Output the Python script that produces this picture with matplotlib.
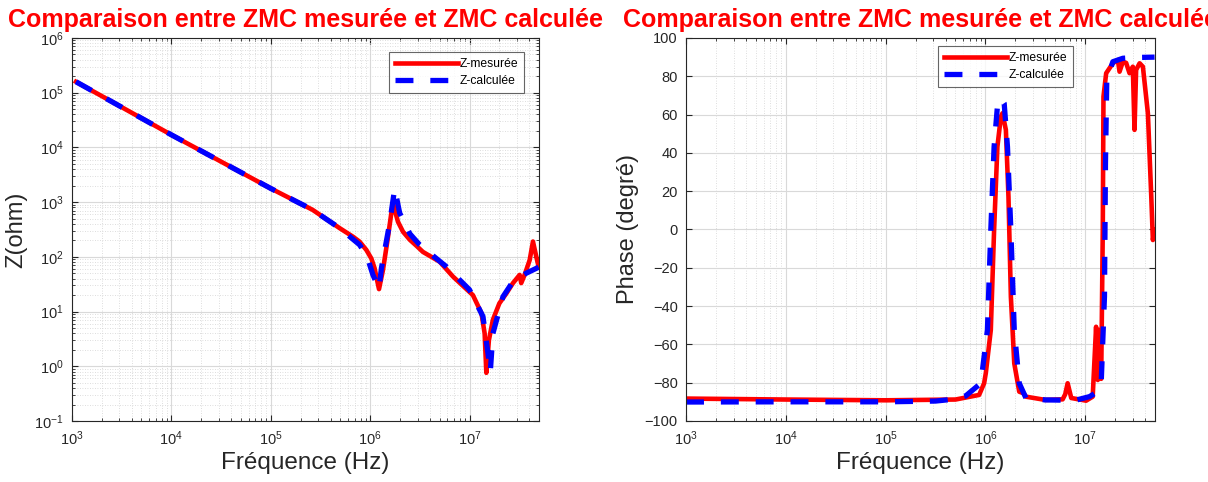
import numpy as np
import matplotlib
matplotlib.use("Agg")
import matplotlib.pyplot as plt
from matplotlib.ticker import LogLocator, NullFormatter, MultipleLocator

# ---- data (log10 of frequency in Hz) ----
# impedance, measured
zm_lf = [3.04, 4.0, 5.0, 5.42, 5.695, 5.827, 5.894, 5.962, 6.012, 6.045, 6.062, 6.089,
         6.129, 6.18, 6.213, 6.23, 6.247, 6.28, 6.33, 6.40, 6.467, 6.531, 6.70, 6.833,
         7.034, 7.12, 7.152, 7.169, 7.195, 7.235, 7.30, 7.37, 7.437, 7.504, 7.52,
         7.554, 7.605, 7.638, 7.672, 7.695]
zm_lz = [5.20, 4.23, 3.25, 2.86, 2.522, 2.368, 2.277, 2.125, 1.97, 1.79, 1.64, 1.41,
         1.76, 2.37, 2.80, 2.98, 2.86, 2.64, 2.46, 2.31, 2.20, 2.09, 1.91, 1.64,
         1.30, 0.97, 0.60, -0.12, 0.48, 0.85, 1.15, 1.33, 1.52, 1.67, 1.52,
         1.67, 1.94, 2.28, 2.0, 1.82]
# impedance, calculated
zc_lf = [3.04, 4.0, 5.0, 5.42, 5.695, 5.894, 5.97, 6.028, 6.089, 6.113, 6.196, 6.247,
         6.297, 6.40, 6.498, 6.767, 6.999, 7.135, 7.185, 7.209, 7.235, 7.336, 7.437,
         7.57, 7.672, 7.695]
zc_lz = [5.20, 4.23, 3.25, 2.86, 2.522, 2.22, 2.0, 1.67, 1.42, 1.79, 2.61, 3.25,
         2.80, 2.42, 2.22, 1.82, 1.40, 0.91, 0.24, -0.10, 0.60, 1.27, 1.55,
         1.70, 1.79, 1.81]

# phase, measured
pm_lf = [3.0, 4.0, 5.0, 5.7, 5.937, 5.987, 6.004, 6.054, 6.087, 6.12, 6.155, 6.171,
         6.205, 6.231, 6.255, 6.289, 6.339, 6.38, 6.406, 6.6, 6.774, 6.8, 6.824,
         6.86, 7.009, 7.075, 7.109, 7.126, 7.143, 7.16, 7.176, 7.183, 7.21, 7.277,
         7.327, 7.344, 7.377, 7.41, 7.444, 7.477, 7.494, 7.51, 7.545, 7.578, 7.628,
         7.662, 7.678, 7.695]
pm_deg = [-88.3, -88.8, -89.2, -88.8, -86.4, -80.3, -75, -52.5, -0.3, 43.2, 58.9, 60.7,
          52, 17.1, -35.1, -69.9, -84.7, -85.5, -87.3, -89, -88.7, -86, -80.3,
          -88, -89.4, -87.3, -50.8, -78.6, -52.5, -78, -0.3, 69.4, 81.6, 86.8,
          88.5, 82.4, 87.6, 87, 81.6, 85, 52, 83.3, 86.8, 85, 60.7,
          17.1, -5.5, -0.3]
# phase, calculated
pc_lf = [3.0, 4.0, 5.0, 5.5, 5.668, 5.80, 5.954, 6.02, 6.054, 6.087, 6.12, 6.155,
         6.188, 6.221, 6.255, 6.289, 6.339, 6.406, 6.6, 6.9, 7.042, 7.1, 7.16,
         7.193, 7.203, 7.216, 7.277, 7.377, 7.5, 7.695]
pc_deg = [-90.1, -90, -90, -89.6, -88.7, -87, -80.3, -52.5, -0.3, 43.2, 64.1, 68.5,
          65.9, 43.2, -0.3, -52.5, -80.3, -88, -89, -89.2, -87.3, -85.5, -80.3,
          -35, 34.6, 78, 87.6, 89.4, 89.8, 90]

f_zm = 10 ** np.array(zm_lf)
f_zc = 10 ** np.array(zc_lf)
f_pm = 10 ** np.array(pm_lf)
f_pc = 10 ** np.array(pc_lf)

titre = "Comparaison entre ZMC mesurée et ZMC calculée"
txt = "#262626"
tirets = (0, (3.4, 3.2))

plt.rcParams["font.family"] = ["Liberation Sans", "DejaVu Sans"]
fig = plt.figure(figsize=(12.08, 4.82), dpi=100)
ax1 = fig.add_axes([0.0596, 0.1266, 0.3866, 0.7946])
ax2 = fig.add_axes([0.5679, 0.1266, 0.3882, 0.7946])


def style(ax):
    ax.set_xscale("log")
    ax.set_xlim(1e3, 5e7)
    ax.xaxis.set_major_locator(LogLocator(base=10, numticks=20))
    ax.xaxis.set_minor_locator(LogLocator(base=10, subs=np.arange(2, 10), numticks=20))
    ax.xaxis.set_minor_formatter(NullFormatter())
    ax.grid(True, which="major", color="#d9d9d9", linewidth=0.8)
    ax.grid(True, which="minor", color="#d2d2d2", linestyle=(0, (1, 2)), linewidth=0.6)
    ax.tick_params(which="both", direction="in", top=True, right=True,
                   colors=txt, labelsize=10.5)
    ax.tick_params(which="major", length=4, pad=6)
    ax.tick_params(which="minor", length=2)
    for s in ax.spines.values():
        s.set_color("#262626")
        s.set_linewidth(0.8)
    ax.set_axisbelow(True)
    ax.set_xlabel("Fréquence (Hz)", fontsize=17.5, color=txt, labelpad=3)
    ax.set_title(titre, fontsize=18, fontweight="bold", color="red", pad=8)


def legende(ax, anchor):
    lg = ax.legend(loc="upper right", bbox_to_anchor=anchor, borderaxespad=0,
                   fontsize=8.7, fancybox=False, edgecolor="#404040",
                   handlelength=5.2, borderpad=0.5, labelspacing=0.4,
                   handletextpad=0.1)
    lg.get_frame().set_linewidth(0.8)


# left : module
ax1.plot(f_zm, 10 ** np.array(zm_lz), color="red", lw=3.3, label="Z-mesurée")
ax1.plot(f_zc, 10 ** np.array(zc_lz), color="blue", lw=3.8, ls=tirets,
         label="Z-calculée")
style(ax1)
ax1.set_yscale("log")
ax1.set_ylim(1e-1, 1e6)
ax1.yaxis.set_major_locator(LogLocator(base=10, numticks=20))
ax1.yaxis.set_minor_locator(LogLocator(base=10, subs=np.arange(2, 10), numticks=20))
ax1.yaxis.set_minor_formatter(NullFormatter())
ax1.set_ylabel("Z(ohm)", fontsize=17, color=txt, labelpad=5)
legende(ax1, (0.968, 0.963))

# right : phase
ax2.plot(f_pm, pm_deg, color="red", lw=3.3, label="Z-mesurée")
ax2.plot(f_pc, pc_deg, color="blue", lw=3.8, ls=tirets, label="Z-calculée")
style(ax2)
ax2.set_ylim(-100, 100)
ax2.yaxis.set_major_locator(MultipleLocator(20))
ax2.set_ylabel("Phase (degré)", fontsize=17, color=txt, labelpad=4)
legende(ax2, (0.825, 0.979))

fig.savefig("out.png", dpi=100)
